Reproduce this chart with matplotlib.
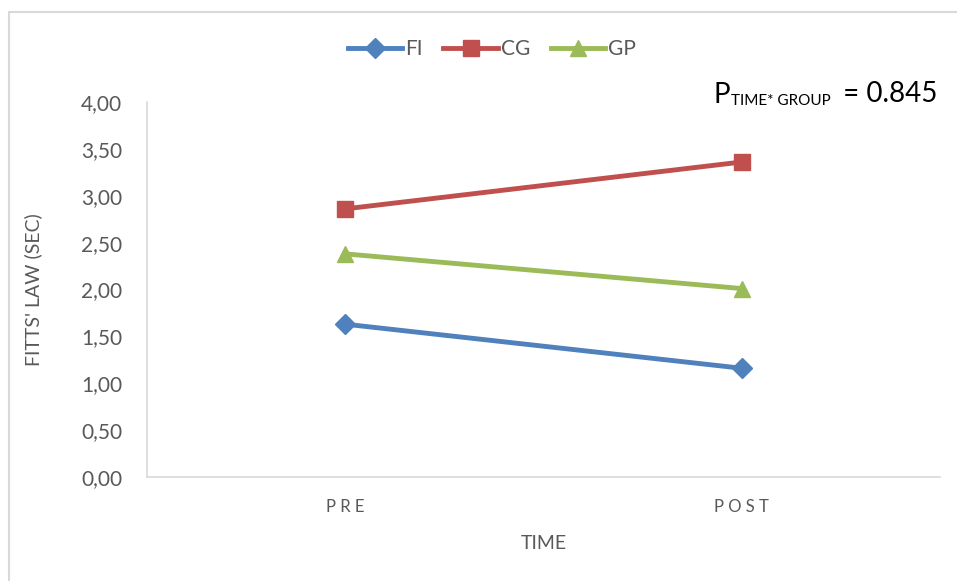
#!/usr/bin/env python3
import matplotlib
matplotlib.use('Agg')
import matplotlib.pyplot as plt
from matplotlib.patches import Rectangle

plt.rcParams['font.family'] = ['Lato', 'DejaVu Sans']

times = ['P R E', 'P O S T']
fi = [1.63, 1.16]
cg = [2.86, 3.36]
gp = [2.38, 2.01]
yticks = [0.0, 0.5, 1.0, 1.5, 2.0, 2.5, 3.0, 3.5, 4.0]


def main():
    fig = plt.figure(figsize=(9.57, 5.81), dpi=100)
    fig.patches.append(Rectangle((9 / 957, -0.1), 1.2, 1 - 12 / 581 + 0.1,
                                 transform=fig.transFigure, fill=False,
                                 edgecolor='#d9d9d9', linewidth=1.5))
    ax = fig.add_axes([147 / 957, 1 - 477 / 581, 793 / 957, 375 / 581])
    x = list(range(len(times)))
    ax.plot(x, fi, color='#4f81bd', lw=3.5, marker='D', ms=10, label='FI')
    ax.plot(x, cg, color='#c0504d', lw=3.5, marker='s', ms=11, label='CG')
    ax.plot(x, gp, color='#9bbb59', lw=3.5, marker='^', ms=12, label='GP')

    ax.set_xlim(-0.5, 1.5)
    ax.set_ylim(0, 4)
    ax.set_xticks(x)
    ax.set_xticklabels(times, fontsize=12, color='#595959')
    ax.set_yticks(yticks)
    ax.set_yticklabels([('%.2f' % v).replace('.', ',') for v in yticks],
                       fontsize=15, color='#595959')
    ax.tick_params(axis='y', length=0, pad=18)
    ax.tick_params(axis='x', length=0, pad=16)
    for s in ['top', 'right']:
        ax.spines[s].set_visible(False)
    ax.spines['left'].set_color('#d9d9d9')
    ax.spines['bottom'].set_color('#d9d9d9')
    ax.spines['left'].set_linewidth(1.2)
    ax.spines['bottom'].set_linewidth(1.2)

    ax.set_xlabel('TIME', fontsize=14, color='#595959', labelpad=14)
    ax.set_ylabel("FITTS' LAW (SEC)", fontsize=14, color='#595959', labelpad=28)

    ax.legend(loc='lower center', bbox_to_anchor=(492 / 957, 1 - 78 / 581),
              bbox_transform=fig.transFigure, ncol=3,
              frameon=False, fontsize=15, handlelength=2.6,
              columnspacing=1.0, handletextpad=0.15,
              labelcolor='#595959')

    # P with small-caps style subscript, built from pieces
    t1 = fig.text(713 / 957, 1 - 108 / 581, 'P', ha='left', va='bottom',
                  fontsize=20, color='black')
    t2 = ax.annotate('TIME* GROUP', xy=(1, 0), xycoords=t1,
                     xytext=(1, 0), textcoords='offset points',
                     ha='left', va='bottom', fontsize=11, color='black')
    ax.annotate(' = 0.845', xy=(1, 0), xycoords=t2,
                xytext=(4, 1), textcoords='offset points',
                ha='left', va='bottom', fontsize=20, color='black',
                annotation_clip=False)

    fig.savefig('out.png', dpi=100)


if __name__ == '__main__':
    main()
